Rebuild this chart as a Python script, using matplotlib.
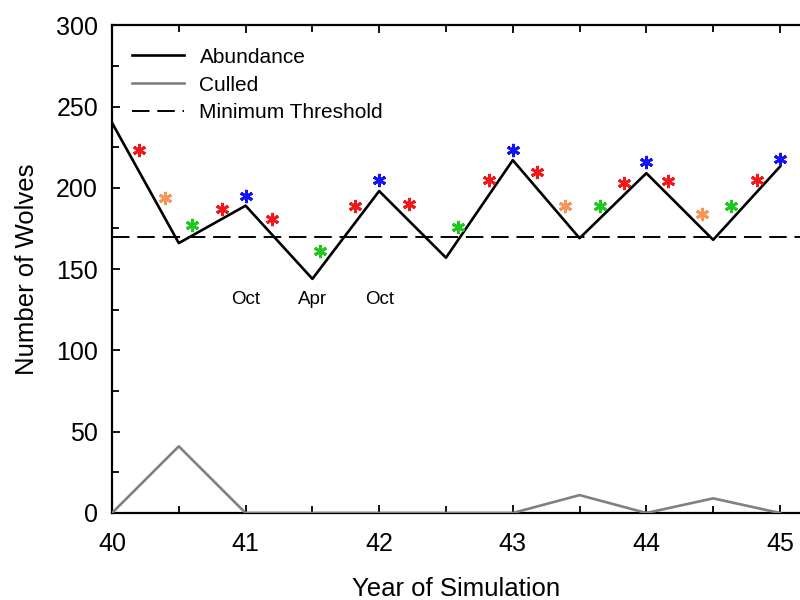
import numpy as np
import matplotlib.pyplot as plt
from matplotlib.ticker import MultipleLocator

plt.rcParams['font.family'] = ['Liberation Sans', 'DejaVu Sans']

# abundance and culled wolves every half year
years = [40, 40.5, 41, 41.5, 42, 42.5, 43, 43.5, 44, 44.5, 45]
abundance = [240, 166, 189, 144, 198, 157, 217, 169, 209, 168, 213]
culled = [0, 41, 0, 0, 0, 0, 0, 11, 0, 9, 0]
threshold = 170

# asterisk markers (position, value, category)
star_x = [40.2, 40.4, 40.6, 40.82, 41.0, 41.2, 41.56, 41.82, 42.0, 42.22,
          42.59, 42.82, 43.0, 43.18, 43.39, 43.65, 43.83, 44.0, 44.16, 44.42,
          44.63, 44.83, 45.0]
star_y = [223, 194, 177, 187, 195, 181, 161, 189, 205, 190,
          176, 205, 223, 210, 189, 189, 203, 216, 204, 184,
          189, 205, 218]
star_cat = ['r', 'o', 'g', 'r', 'b', 'r', 'g', 'r', 'b', 'r',
            'g', 'r', 'b', 'r', 'o', 'g', 'r', 'b', 'r', 'o',
            'g', 'r', 'b']

month_x = [41, 41.5, 42]
month_lbl = ['Oct', 'Apr', 'Oct']

cat_colors = {'r': '#f01818', 'o': '#f7945a', 'g': '#1ec81e', 'b': '#1414f0'}

fig = plt.figure(figsize=(8, 6), dpi=100)
ax = fig.add_axes([0.14, 0.145, 0.86, 0.813])

ax.plot(years, abundance, color='black', lw=1.9, label='Abundance', zorder=3)
ax.plot(years, culled, color='#808080', lw=1.9, label='Culled', zorder=3)
ax.axhline(threshold, color='black', lw=1.4, dashes=(9, 4), label='Minimum Threshold')

for x, y, c in zip(star_x, star_y, star_cat):
    ax.plot(x, y, marker=(6, 2, 0), color=cat_colors[c], ms=9.5, mew=2.1, ls='none', zorder=4)

for x, t in zip(month_x, month_lbl):
    ax.text(x, 131, t, ha='center', va='center', fontsize=13.5)

ax.set_xlim(40, 45.15)
ax.set_ylim(0, 300)
ax.xaxis.set_major_locator(MultipleLocator(1))
ax.xaxis.set_minor_locator(MultipleLocator(0.5))
ax.yaxis.set_major_locator(MultipleLocator(50))
ax.yaxis.set_minor_locator(MultipleLocator(25))
ax.tick_params(which='both', direction='in', top=True, right=False, width=1.3, labelsize=18)
ax.tick_params(axis='x', pad=14)
ax.tick_params(axis='y', pad=10)
ax.tick_params(which='major', length=6)
ax.tick_params(which='minor', length=5)
ax.spines['right'].set_visible(False)
for s in ['left', 'bottom', 'top']:
    ax.spines[s].set_linewidth(1.6)

ax.set_xlabel('Year of Simulation', fontsize=18.5, labelpad=15)
ax.set_ylabel('Number of Wolves', fontsize=18.5, labelpad=12)

ax.legend(loc='upper left', bbox_to_anchor=(0.003, 0.99), frameon=False, fontsize=15,
          handlelength=2.5, labelspacing=0.42, borderaxespad=0.45, handletextpad=0.75)

fig.savefig('out.png', dpi=100)
